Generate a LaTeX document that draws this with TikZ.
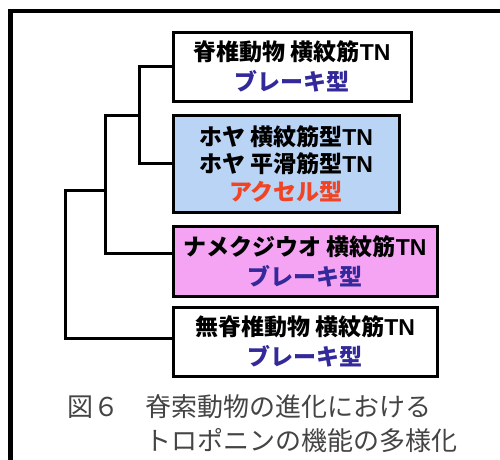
\documentclass[tikz,border=0pt]{standalone}
\usepackage{fontspec}
\newfontfamily\cjk{Noto Sans CJK JP}
\newfontfamily\latb{Liberation Sans}
\usetikzlibrary{calc}
\definecolor{brakeblue}{HTML}{33299A}
\definecolor{accelred}{HTML}{F04424}
\definecolor{boxblue}{HTML}{B9D4F4}
\definecolor{boxpink}{HTML}{F5A3F3}
\definecolor{capgray}{HTML}{444444}
\newcommand{\tn}{{\latb\bfseries TN}}
\begin{document}
\begin{tikzpicture}[x=1pt,y=1pt,
  taxon/.style={draw=black, line width=3pt, inner sep=0pt, align=center,
    font=\cjk\bfseries\fontsize{23}{30}\selectfont},
  tree/.style={draw=black, line width=3pt},
  frameline/.style={draw=black, line width=4.5pt},
  caption/.style={anchor=north west, align=left, text=capgray, inner sep=0pt,
    font=\cjk\fontsize{26}{34}\selectfont}]
\useasboundingbox (0,0) rectangle (500,-459);
\fill[white] (0,0) rectangle (500,-459);
% outer frame
\draw[frameline] (10.5,-470) -- (10.5,-11) -- (510,-11);
% boxes
\node[taxon, fill=white, minimum width=238pt, minimum height=69pt] (b1) at (292,-66.5)
  {脊椎動物 横紋筋\tn\\\textcolor{brakeblue}{ブレーキ型}};
\node[taxon, fill=boxblue, minimum width=226pt, minimum height=97pt,
  font=\cjk\bfseries\fontsize{23}{27.5}\selectfont] (b2) at (286,-163.5)
  {ホヤ 横紋筋型\tn\\ホヤ 平滑筋型\tn\\\textcolor{accelred}{アクセル型}};
\node[taxon, fill=boxpink, minimum width=264pt, minimum height=70pt] (b3) at (305,-261)
  {ナメクジウオ 横紋筋\tn\\\textcolor{brakeblue}{ブレーキ型}};
\node[taxon, fill=white, minimum width=264pt, minimum height=69pt] (b4) at (305,-341.5)
  {無脊椎動物 横紋筋\tn\\\textcolor{brakeblue}{ブレーキ型}};
% tree
\coordinate (k1) at (139,-66.5);
\coordinate (n1) at (139,-115);
\coordinate (n2) at (105,-190);
\coordinate (k3) at (105,-253);
\coordinate (k4) at (65,-338);
\draw[tree] (b1.west) -- (k1) |- (b2.west);
\draw[tree] (n1) -| (k3) -- (k3 -| b3.west);
\draw[tree] (n2) -| (k4) -- (k4 -| b4.west);
% caption
\node[caption] (cap) at (67,-394) {図６　脊索動物の進化における\\　　　トロポニンの機能の多様化};
\end{tikzpicture}
\end{document}
